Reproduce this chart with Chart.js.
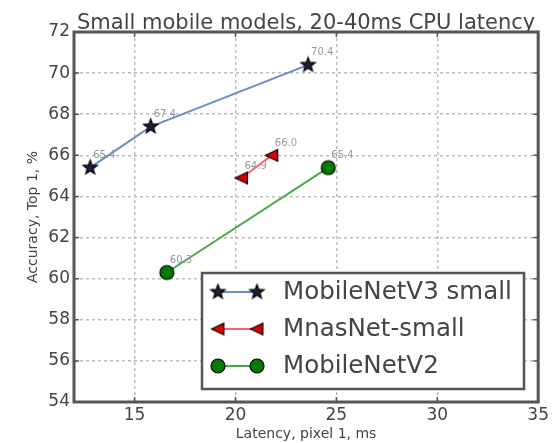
<!DOCTYPE html>
<html>
<head>
<meta charset="utf-8">
<script src="https://cdn.jsdelivr.net/npm/chart.js@4/dist/chart.umd.min.js"></script>
<style>
  html, body { margin: 0; padding: 0; background: #fff; }
  canvas { display: block; }
</style>
</head>
<body>
<canvas id="c" width="552" height="443"></canvas>
<script>
// Latency (ms, Pixel 1) and top-1 accuracy (%) for each model family
const v3Latency   = [12.8, 15.8, 23.6];
const v3Top1      = [65.4, 67.4, 70.4];
const mnasLatency = [20.3, 21.8];
const mnasTop1    = [64.9, 66.0];
const v2Latency   = [16.6, 24.6];
const v2Top1      = [60.3, 65.4];

const seriesNames = ['MobileNetV3 small', 'MnasNet-small', 'MobileNetV2'];
const chartTitle = 'Small mobile models, 20-40ms CPU latency';
const xTicks = [15, 20, 25, 30, 35];
const yTicks = [54, 56, 58, 60, 62, 64, 66, 68, 70, 72];

const TEXT = '#444';
const FONT = 'DejaVu Sans';
Chart.defaults.font.family = FONT;

// Marker sprites (filled star, left triangle, circle) with black edges
function makeMarker(kind, fill, r) {
  const size = Math.ceil(2 * r + 4);
  const cv = document.createElement('canvas');
  cv.width = size; cv.height = size;
  const g = cv.getContext('2d');
  const c = size / 2;
  g.beginPath();
  if (kind === 'star') {
    for (let i = 0; i < 10; i++) {
      const rad = i % 2 === 0 ? r : r * 0.42;
      const a = -Math.PI / 2 + i * Math.PI / 5;
      const px = c + rad * Math.cos(a), py = c + rad * Math.sin(a);
      if (i === 0) g.moveTo(px, py); else g.lineTo(px, py);
    }
    g.closePath();
  } else if (kind === 'tri') {
    g.moveTo(c - r, c);
    g.lineTo(c + r * 0.9, c - r * 0.9);
    g.lineTo(c + r * 0.9, c + r * 0.9);
    g.closePath();
  } else {
    g.arc(c, c, r, 0, Math.PI * 2);
  }
  g.fillStyle = fill;
  g.fill();
  g.lineWidth = 1.2;
  g.strokeStyle = '#000';
  g.stroke();
  return cv;
}

const starImg = makeMarker('star', '#1c2233', 7.5);
const triImg  = makeMarker('tri', '#e00000', 6.5);
const dotImg  = makeMarker('dot', '#007a00', 7);

const toPoints = (xs, ys) => xs.map((x, i) => ({ x: x, y: ys[i] }));

const datasets = [
  { label: seriesNames[0], data: toPoints(v3Latency, v3Top1),     borderColor: '#6a8cca', pointStyle: starImg },
  { label: seriesNames[1], data: toPoints(mnasLatency, mnasTop1), borderColor: '#ff6464', pointStyle: triImg },
  { label: seriesNames[2], data: toPoints(v2Latency, v2Top1),     borderColor: '#48aa48', pointStyle: dotImg }
].map(d => Object.assign(d, { showLine: true, borderWidth: 2, tension: 0, pointRadius: 7, fill: false }));

// Title, frame, inward tick marks, value labels and legend box
const decor = {
  id: 'decor',
  beforeDatasetsDraw(chart) {
    const { ctx, chartArea: a, scales: { x, y } } = chart;
    ctx.save();
    ctx.fillStyle = TEXT;
    ctx.font = '21px ' + FONT;
    ctx.textAlign = 'center';
    ctx.textBaseline = 'alphabetic';
    ctx.fillText(chartTitle, (a.left + a.right) / 2, a.top - 3);

    ctx.strokeStyle = '#555';
    ctx.lineWidth = 1.5;
    ctx.beginPath();
    xTicks.forEach(v => {
      const px = x.getPixelForValue(v);
      ctx.moveTo(px, a.bottom); ctx.lineTo(px, a.bottom - 5);
      ctx.moveTo(px, a.top); ctx.lineTo(px, a.top + 5);
    });
    yTicks.forEach(v => {
      const py = y.getPixelForValue(v);
      ctx.moveTo(a.left, py); ctx.lineTo(a.left + 5, py);
      ctx.moveTo(a.right, py); ctx.lineTo(a.right - 5, py);
    });
    ctx.stroke();
    ctx.lineWidth = 3;
    ctx.strokeStyle = '#555';
    ctx.strokeRect(a.left, a.top, a.right - a.left, a.bottom - a.top);
    ctx.restore();
  },
  afterDraw(chart) {
    const { ctx } = chart;
    ctx.save();
    // value labels next to each point
    ctx.font = '10px ' + FONT;
    ctx.fillStyle = '#999';
    ctx.textAlign = 'left';
    ctx.textBaseline = 'middle';
    chart.data.datasets.forEach((ds, i) => {
      chart.getDatasetMeta(i).data.forEach((el, j) => {
        ctx.fillText(ds.data[j].y.toFixed(1), el.x + 3, el.y - 12);
      });
    });
    // legend
    const bx = 202, by = 273, bw = 322, bh = 116;
    ctx.fillStyle = '#fff';
    ctx.fillRect(bx, by, bw, bh);
    ctx.lineWidth = 2.5;
    ctx.strokeStyle = '#555';
    ctx.strokeRect(bx, by, bw, bh);
    ctx.font = '24.5px ' + FONT;
    ctx.textBaseline = 'middle';
    chart.data.datasets.forEach((ds, i) => {
      const ry = by + 19 + i * 37;
      ctx.strokeStyle = ds.borderColor;
      ctx.lineWidth = 2;
      ctx.beginPath();
      ctx.moveTo(218, ry); ctx.lineTo(257, ry);
      ctx.stroke();
      const img = ds.pointStyle;
      [218, 257].forEach(mx => ctx.drawImage(img, mx - img.width / 2, ry - img.height / 2));
      ctx.fillStyle = TEXT;
      ctx.fillText(ds.label, 283, ry + 1);
    });
    ctx.restore();
  }
};

new Chart(document.getElementById('c'), {
  type: 'scatter',
  data: { datasets },
  plugins: [decor],
  options: {
    responsive: false,
    animation: false,
    devicePixelRatio: 1,
    layout: { padding: { left: 0, right: 12, top: 32, bottom: 0 } },
    plugins: {
      legend: { display: false },
      tooltip: { enabled: false },
      title: { display: false }
    },
    scales: {
      x: {
        type: 'linear', min: 12, max: 35,
        afterBuildTicks: s => { s.ticks = xTicks.map(v => ({ value: v })); },
        afterFit: s => { s.height = 41; },
        ticks: { color: TEXT, font: { size: 17 }, padding: 3, maxRotation: 0, autoSkip: false },
        grid: { color: '#bdbdbd', lineWidth: 1.5, drawTicks: false },
        border: { display: false, dash: [3, 3] },
        title: { display: true, text: 'Latency, pixel 1, ms', color: TEXT, font: { size: 14 }, padding: { top: 0, bottom: 0 } }
      },
      y: {
        type: 'linear', min: 54, max: 72,
        afterBuildTicks: s => { s.ticks = yTicks.map(v => ({ value: v })); },
        afterFit: s => { s.width = 74; },
        ticks: { color: TEXT, font: { size: 17 }, padding: 4 },
        grid: { color: '#bdbdbd', lineWidth: 1.5, drawTicks: false },
        border: { display: false, dash: [3, 3] },
        title: { display: true, text: 'Accuracy, Top 1, %', color: TEXT, font: { size: 14 }, padding: { top: 25, bottom: 0 } }
      }
    }
  }
});
</script>
</body>
</html>
